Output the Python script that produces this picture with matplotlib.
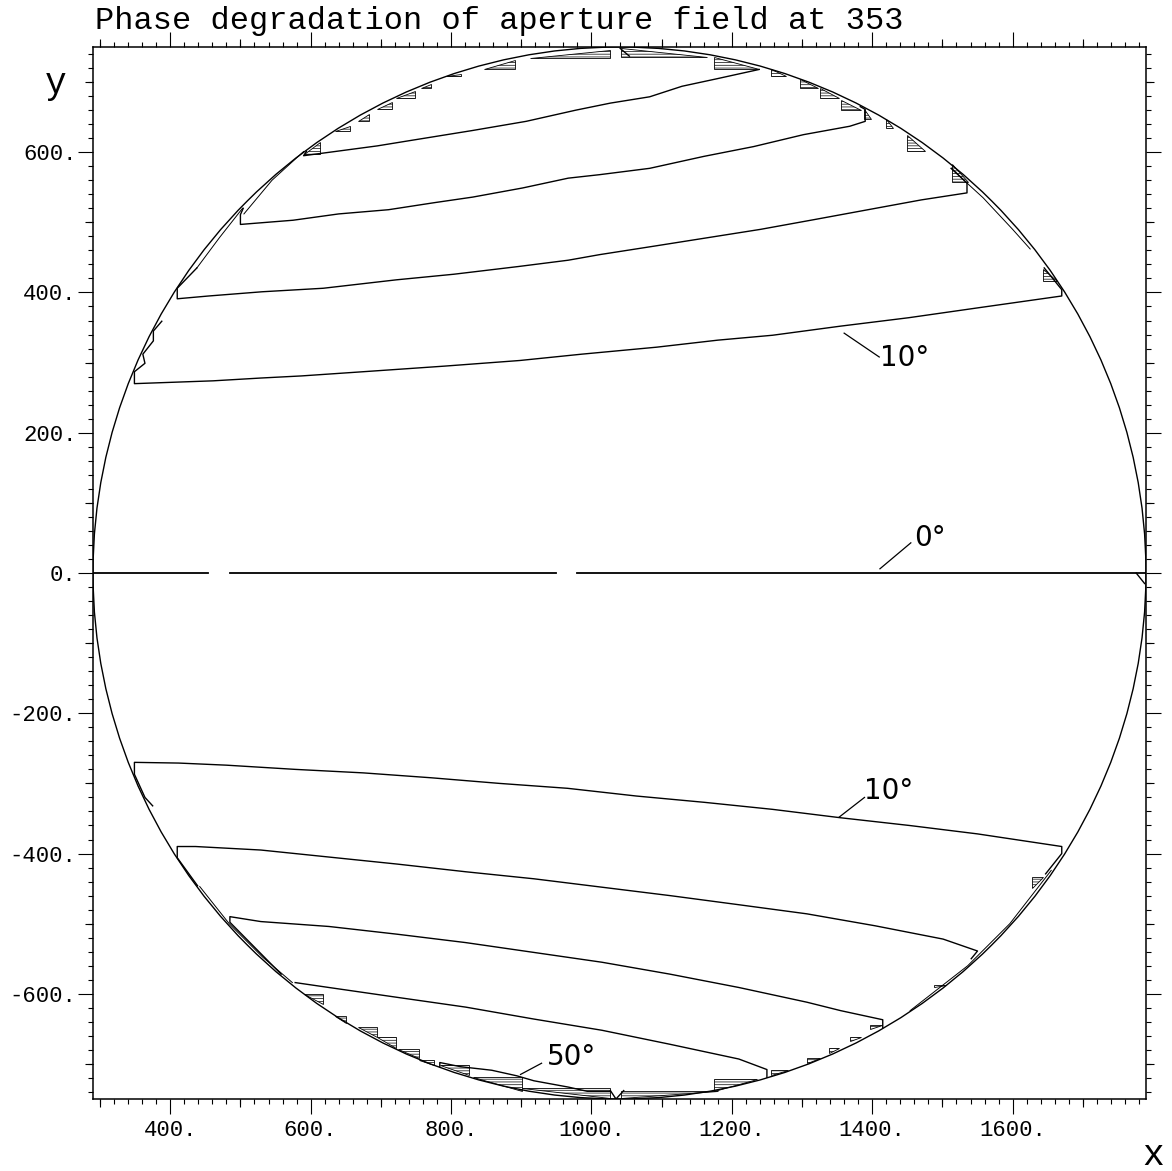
import numpy as np
import matplotlib.pyplot as plt
from matplotlib.patches import Circle, Polygon
from matplotlib.ticker import MultipleLocator, FuncFormatter

plt.rcParams['font.family'] = ['Liberation Mono', 'DejaVu Sans']
plt.rcParams['hatch.linewidth'] = 0.5

# aperture rim
rim_cx = 1040
rim_cy = 0
rim_r = 750

# phase contours, upper half (x, y)
up10_x = [388, 376, 376, 361, 364, 349, 349, 461, 529, 587, 675, 791, 898, 986, 1093, 1180, 1258, 1355, 1452, 1550, 1670, 1670, 1645]
up10_y = [359, 345, 331, 312, 299, 287, 270, 274, 278, 281, 287, 295, 303, 312, 322, 332, 339, 352, 364, 378, 395, 404, 435]

up20_x = [438, 410, 410, 455, 531, 618, 722, 804, 896, 967, 1012, 1089, 1165, 1241, 1318, 1394, 1470, 1535, 1535, 1513]
up20_y = [435, 406, 391, 395, 401, 406, 418, 426, 437, 446, 454, 466, 478, 490, 504, 518, 532, 542, 556, 577]

up30_x = [504, 500, 500, 575, 640, 711, 776, 831, 902, 967, 1012, 1083, 1160, 1231, 1302, 1368, 1390, 1390, 1383]
up30_y = [520, 511, 497, 503, 512, 518, 528, 536, 549, 563, 568, 577, 594, 608, 625, 637, 644, 661, 665]

up40_x = [594, 590, 635, 695, 738, 831, 907, 978, 1027, 1083, 1129, 1180, 1239]
up40_y = [601, 595, 601, 609, 616, 631, 644, 660, 670, 679, 694, 705, 718]

# phase contours, lower half
lo10_x = [375, 364, 349, 349, 412, 480, 578, 675, 772, 869, 966, 1064, 1161, 1258, 1355, 1453, 1550, 1670, 1670, 1647]
lo10_y = [-332, -320, -287, -270, -271, -274, -280, -285, -292, -300, -307, -318, -327, -337, -349, -360, -372, -390, -400, -429]

lo20_x = [439, 410, 410, 436, 529, 626, 723, 821, 918, 1015, 1112, 1210, 1307, 1404, 1501, 1550, 1541]
lo20_y = [-446, -406, -390, -390, -395, -405, -415, -426, -436, -448, -460, -473, -486, -503, -522, -539, -550]

lo30_x = [558, 485, 485, 529, 626, 723, 821, 918, 1015, 1112, 1210, 1307, 1355, 1415, 1415]
lo30_y = [-572, -498, -490, -497, -504, -515, -527, -541, -555, -572, -591, -612, -624, -637, -648]

lo40_x = [578, 626, 723, 821, 918, 1015, 1112, 1210, 1250, 1250]
lo40_y = [-584, -591, -605, -619, -636, -652, -672, -693, -708, -719]

lo50_x = [784, 784, 814, 858, 894, 918, 967, 994, 1027]
lo50_y = [-704, -698, -704, -709, -717, -724, -733, -739, -739]

# notches at top and bottom of the rim
top_v_x = [1041, 1054]
top_v_y = [748, 737]
bot_v_x = [1027, 1035, 1046]
bot_v_y = [-738, -750, -738]

# contour pieces running along the rim
edge_x = [[438, 470, 503], [505, 545, 590], [1512, 1558, 1600, 1625],
          [442, 484, 532, 574], [1655, 1596, 1536, 1454]]
edge_y = [[435, 478, 520], [512, 560, 601], [577, 535, 490, 462],
          [-447, -500, -548, -584], [-424, -500, -560, -624]]

# 0 degree line, drawn in pieces
zero_x0 = [290, 485, 980]
zero_x1 = [454, 950, 1790]
zero_tail_x = [1776, 1788]
zero_tail_y = [0, -15]

# stair-step clusters along the rim: (x_left, x_right, y_low, y_high)
steps_ul = [(590, 613, 597, 615), (635, 656, 630, 637), (668, 683, 644, 654), (695, 716, 661, 672),
            (722, 749, 677, 687), (757, 771, 691, 697), (793, 814, 708, 712), (847, 891, 719, 732),
            (912, 1026, 735, 746)]
steps_ur = [(1042, 1165, 736, 748), (1175, 1239, 718, 736), (1256, 1277, 708, 718), (1297, 1323, 691, 704),
            (1326, 1353, 677, 692), (1356, 1384, 660, 675), (1388, 1398, 648, 661), (1420, 1430, 634, 647),
            (1450, 1475, 601, 625), (1514, 1536, 558, 583), (1643, 1663, 416, 434)]
steps_ll = [(590, 618, -614, -600), (635, 651, -641, -632), (668, 695, -662, -648), (695, 722, -677, -662),
            (724, 754, -692, -678), (754, 776, -702, -695), (784, 826, -716, -702), (831, 901, -738, -719),
            (901, 1026, -749, -734)]
steps_lr = [(1042, 1180, -749, -738), (1174, 1236, -739, -721), (1256, 1280, -716, -708), (1307, 1326, -699, -692),
            (1338, 1353, -684, -677), (1368, 1384, -668, -661), (1397, 1414, -650, -645), (1488, 1505, -591, -588),
            (1627, 1643, -449, -434)]

# contour labels and leaders
lab_text = ["10°", "0°", "10°", "50°"]
lab_x = [1411, 1460, 1389, 937]
lab_y = [295, 39, -322, -701]
lead_x0 = [1360, 1411, 1353, 899]
lead_y0 = [342, 6, -348, -715]
lead_x1 = [1410, 1455, 1389, 929]
lead_y1 = [308, 43, -320, -699]

x_mid_ticks = [300, 500, 700, 900, 1100, 1300, 1500, 1700]
y_mid_ticks = [-700, -500, -300, -100, 100, 300, 500, 700]

title = "Phase degradation of aperture field at 353"

W, H = 1172, 1171
fig = plt.figure(figsize=(W / 100, H / 100), dpi=100)
ax = fig.add_axes([93 / W, 72 / H, 1053 / W, 1052 / H])

ax.set_xlim(290, 1790)
ax.set_ylim(-750, 750)

lw = 1.0
ax.add_patch(Circle((rim_cx, rim_cy), rim_r, fill=False, lw=lw, color='black'))

for xs, ys in [(up10_x, up10_y), (up20_x, up20_y), (up30_x, up30_y), (up40_x, up40_y),
               (lo10_x, lo10_y), (lo20_x, lo20_y), (lo30_x, lo30_y), (lo40_x, lo40_y),
               (lo50_x, lo50_y), (top_v_x, top_v_y), (bot_v_x, bot_v_y), (zero_tail_x, zero_tail_y)]:
    ax.plot(xs, ys, color='black', lw=lw)

for xs, ys in zip(edge_x, edge_y):
    ax.plot(xs, ys, color='black', lw=0.7)

for a, b in zip(zero_x0, zero_x1):
    ax.plot([a, b], [0, 0], color='black', lw=1.3)


def step_poly(s, quad):
    x0, x1, lo, hi = s
    if quad == 'ul':
        return [(x0, lo), (x1, lo), (x1, hi)]
    if quad == 'ur':
        return [(x0, hi), (x0, lo), (x1, lo)]
    if quad == 'll':
        return [(x0, hi), (x1, hi), (x1, lo)]
    return [(x0, lo), (x0, hi), (x1, hi)]


for group, quad in [(steps_ul, 'ul'), (steps_ur, 'ur'), (steps_ll, 'll'), (steps_lr, 'lr')]:
    for s in group:
        ax.add_patch(Polygon(step_poly(s, quad), closed=True, fill=False,
                             edgecolor='black', lw=0.6, hatch='------'))

for t, x, y, a0, b0, a1, b1 in zip(lab_text, lab_x, lab_y, lead_x0, lead_y0, lead_x1, lead_y1):
    ax.plot([a0, a1], [b0, b1], color='black', lw=0.9)
    ax.text(x, y, t, family='DejaVu Sans', fontsize=20, ha='left', va='baseline')

# axes frame and ticks
for sp in ax.spines.values():
    sp.set_linewidth(1.1)

ax.xaxis.set_major_locator(MultipleLocator(200))
ax.xaxis.set_minor_locator(MultipleLocator(20))
ax.yaxis.set_major_locator(MultipleLocator(200))
ax.yaxis.set_minor_locator(MultipleLocator(20))
fmt = FuncFormatter(lambda v, p: f"{int(round(v))}.")
ax.xaxis.set_major_formatter(fmt)
ax.yaxis.set_major_formatter(fmt)

ax.tick_params(which='both', direction='out', top=True, right=True, width=0.8, labelsize=16)
ax.tick_params(which='major', length=10.8)
ax.tick_params(which='minor', length=3.6)
ax.tick_params(axis='x', pad=4)
ax.tick_params(axis='y', pad=1)

for side in ['bottom', 'top']:
    sec = ax.secondary_xaxis(side)
    sec.set_xticks(x_mid_ticks)
    sec.tick_params(direction='out', length=5.8, width=0.8, labelbottom=False, labeltop=False)
    sec.spines[side].set_visible(False)
for side in ['left', 'right']:
    sec = ax.secondary_yaxis(side)
    sec.set_yticks(y_mid_ticks)
    sec.tick_params(direction='out', length=5.8, width=0.8, labelleft=False, labelright=False)
    sec.spines[side].set_visible(False)

fig.text(95 / W, 1 - 29 / H, title, fontsize=23, ha='left', va='baseline')
fig.text(56 / W, 1 - 93 / H, 'y', fontsize=26, ha='center', va='baseline')
fig.text(1153 / W, 1 - 1165 / H, 'x', fontsize=26, ha='center', va='baseline')

fig.savefig('out.png', dpi=100)
